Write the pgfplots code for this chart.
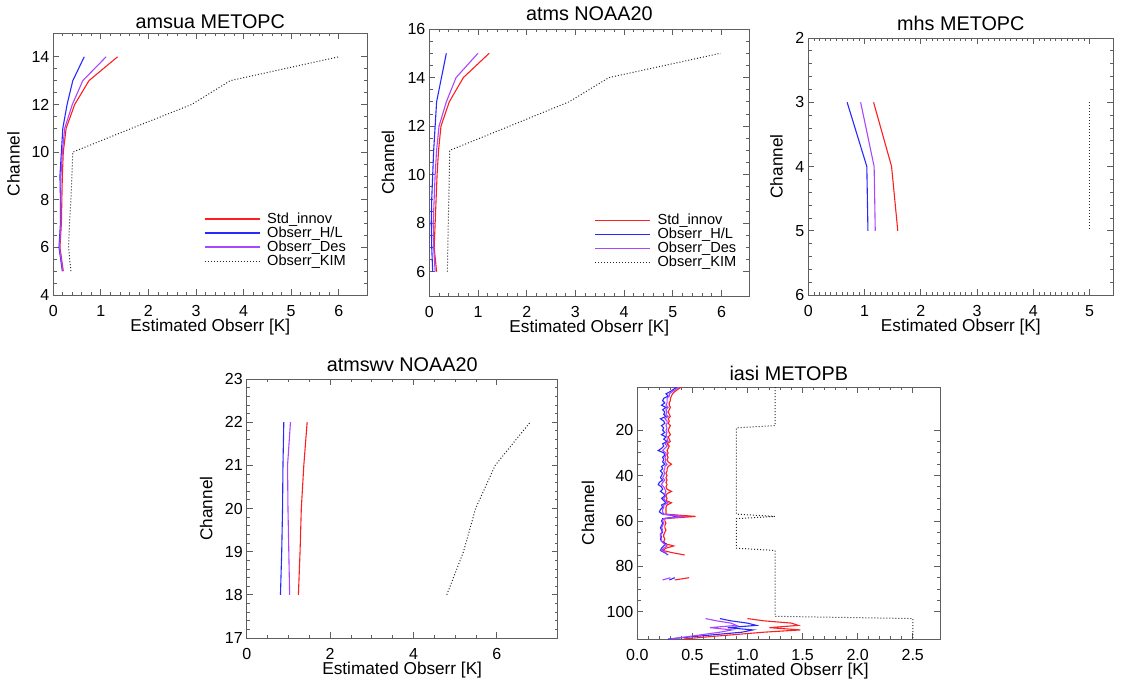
\documentclass[border=0pt]{standalone}
\usepackage{fontspec}
\setmainfont{Liberation Sans}
\usepackage{pgfplots}
\usepackage{pgfplotstable}
\pgfplotsset{compat=1.18}

\definecolor{cRed}{RGB}{255,30,30}
\definecolor{cBlue}{RGB}{40,40,255}
\definecolor{cPur}{RGB}{170,70,255}
\definecolor{axgray}{RGB}{95,95,95}

\pgfplotstableread{
ch r b p k
1 0.40 0.36 0.38 1.25
2 0.37 0.33 0.35 1.25
3 0.34 0.30 0.32 1.25
4 0.32 0.26 0.29 1.25
5 0.31 0.28 0.29 1.25
6 0.30 0.24 0.27 1.25
7 0.30 0.23 0.27 1.25
8 0.29 0.25 0.27 1.25
9 0.29 0.22 0.26 1.25
10 0.30 0.26 0.28 1.25
11 0.29 0.23 0.26 1.25
12 0.28 0.25 0.27 1.25
13 0.29 0.24 0.26 1.25
14 0.30 0.26 0.28 1.25
15 0.28 0.21 0.25 1.25
16 0.29 0.24 0.27 1.25
17 0.28 0.25 0.27 1.25
18 0.30 0.22 0.26 1.25
19 0.29 0.24 0.27 0.90
20 0.28 0.23 0.26 0.90
21 0.29 0.25 0.27 0.90
22 0.30 0.22 0.26 0.90
23 0.28 0.26 0.27 0.90
24 0.29 0.24 0.27 0.90
25 0.30 0.27 0.28 0.90
26 0.27 0.23 0.25 0.90
27 0.29 0.24 0.27 0.90
28 0.28 0.22 0.25 0.90
29 0.27 0.19 0.23 0.90
30 0.28 0.24 0.26 0.90
31 0.27 0.25 0.26 0.90
32 0.28 0.23 0.25 0.90
33 0.27 0.24 0.26 0.90
34 0.28 0.23 0.25 0.90
35 0.31 0.25 0.27 0.90
36 0.28 0.22 0.25 0.90
37 0.27 0.23 0.25 0.90
38 0.27 0.21 0.24 0.90
39 0.26 0.23 0.25 0.90
40 0.27 0.22 0.24 0.90
41 0.26 0.21 0.23 0.90
42 0.27 0.23 0.25 0.90
43 0.26 0.20 0.23 0.90
44 0.27 0.19 0.22 0.90
45 0.26 0.22 0.24 0.90
46 0.27 0.23 0.25 0.90
47 0.31 0.21 0.26 0.90
48 0.27 0.24 0.25 0.90
49 0.26 0.25 0.26 0.90
50 0.27 0.22 0.24 0.90
51 0.26 0.24 0.25 0.90
52 0.31 0.26 0.28 0.90
53 0.27 0.22 0.24 0.90
54 0.26 0.23 0.24 0.90
55 0.26 0.21 0.23 0.90
56 0.26 0.20 0.23 0.90
57 0.26 0.23 0.24 0.90
58 0.53 0.38 0.42 1.25
59 0.25 0.23 0.24 0.90
60 0.25 0.22 0.23 0.90
61 0.26 0.23 0.24 0.90
62 0.25 0.22 0.23 0.90
63 0.25 0.21 0.22 0.90
64 0.26 0.22 0.23 0.90
65 0.25 0.23 0.22 0.90
66 0.24 0.21 0.21 0.90
67 0.24 0.22 0.21 0.90
68 0.25 0.21 0.22 0.90
69 0.24 0.22 0.22 0.90
70 0.25 0.26 0.24 0.90
71 0.33 0.24 0.27 0.90
72 0.26 0.22 0.24 0.90
73 0.23 0.21 0.22 1.25
74 0.32 0.25 0.26 1.25
75 0.43 0.28 0.27 1.25
76 nan nan nan 1.25
77 nan nan nan 1.25
78 nan nan nan 1.25
79 nan nan nan 1.25
80 nan nan nan 1.25
81 nan nan nan 1.25
82 nan nan nan 1.25
83 nan nan nan 1.25
84 nan nan nan 1.25
85 0.47 0.34 0.30 1.25
86 0.34 0.29 0.23 1.25
87 nan nan nan 1.25
88 nan nan nan 1.25
89 nan nan nan 1.25
90 nan nan nan 1.25
91 nan nan nan 1.25
92 nan nan nan 1.25
93 nan nan nan 1.25
94 nan nan nan 1.25
95 nan nan nan 1.25
96 nan nan nan 1.25
97 nan nan nan 1.25
98 nan nan nan 1.25
99 nan nan nan 1.25
100 nan nan nan 1.25
101 nan nan nan 1.25
102 nan nan nan 1.25
103 1.00 0.75 0.62 2.50
104 1.15 0.85 0.72 2.50
105 1.40 1.00 0.85 2.50
106 1.46 1.08 0.90 2.50
107 1.20 0.82 0.66 2.50
108 1.48 1.05 0.86 2.50
109 1.15 0.95 0.75 2.50
110 0.90 0.72 0.60 2.50
111 0.65 0.50 0.45 2.50
112 0.42 0.28 0.30 2.50
}\iasi

\newcommand{\lblfont}{\fontsize{8.6}{9}\selectfont}

\pgfplotsset{
  panel/.style={
    scale only axis,
    anchor=south west,
    axis line style={axgray, line width=0.5pt},
    every tick/.style={axgray, line width=0.4pt},
    major tick length=3pt, minor tick length=1.6pt,
    tick align=inside,
    tick pos=both,
    /pgf/number format/assume math mode=true,
    every axis title shift=0pt,
    tick label style={font=\fontsize{8}{9}\selectfont},
    title style={font=\fontsize{9.9}{11}\selectfont, at={(axis description cs:0.5,1)}, anchor=base},
    xlabel={\lblfont Estimated Obserr [K]},
    ylabel={\lblfont Channel},
    xlabel style={at={(axis description cs:0.5,0)}, anchor=base, yshift=-18pt},
    xticklabel style={anchor=base, yshift=-10.9pt},
    yticklabel style={anchor=east, inner sep=0pt, xshift=-1.8pt},
    unbounded coords=jump,
    clip=true,
  },
  legpanel/.style={
    legend style={draw=none, fill=none, inner sep=0pt, row sep=-1pt,
      font=\fontsize{7.3}{7.3}\selectfont,
      nodes={inner sep=0.5pt, text depth=1.5pt, text height=5.5pt},
      column sep=3pt, anchor=north west},
    legend cell align=left,
    legend image code/.code={\draw[##1] (0pt,0pt) -- (27.5pt,0pt);},
  },
  sred/.style={color=cRed, line width=0.55pt},
  sblue/.style={color=cBlue, line width=0.55pt},
  spur/.style={color=cPur, line width=0.55pt},
  skim/.style={color=black!85, line width=0.5pt, dash pattern=on 0.5pt off 1pt},
}

\begin{document}
\begin{tikzpicture}
\useasboundingbox (0,0) rectangle (560.5pt,341pt);

% ---------------- amsua METOPC
\begin{axis}[panel, legpanel, at={(26.65pt,193.5pt)}, width=157pt, height=131pt,
  xmin=0, xmax=6.6, ymin=4, ymax=15,
  xtick={0,1,2,3,4,5,6}, ytick={4,6,8,10,12,14},
  minor x tick num=4, minor y tick num=3,
  title={amsua METOPC}, title style={yshift=2.5pt},
  ylabel style={at={(axis description cs:-0.107,0.5)}, anchor=base},
  legend style={at={(axis description cs:0.479,0.322)}}]
\addplot[sred, forget plot] coordinates {(0.21,5)(0.14,6)(0.17,7)(0.18,8)(0.19,9)(0.21,10)(0.27,11)(0.45,12)(0.75,13)(1.35,14)};
\addplot[sblue, forget plot] coordinates {(0.19,5)(0.12,6)(0.15,7)(0.15,8)(0.14,9)(0.17,10)(0.20,11)(0.29,12)(0.41,13)(0.65,14)};
\addplot[spur, forget plot] coordinates {(0.20,5)(0.13,6)(0.16,7)(0.16,8)(0.16,9)(0.19,10)(0.24,11)(0.40,12)(0.62,13)(1.11,14)};
\addplot[skim, forget plot] coordinates {(0.37,5)(0.32,6)(0.34,7)(0.37,8)(0.39,9)(0.41,10)(1.65,11)(2.91,12)(3.72,13)(6.0,14)};
\addlegendimage{draw=cRed, line width=0.55pt}
\addlegendentry{Std\_innov}
\addlegendimage{draw=cBlue, line width=0.55pt}
\addlegendentry{Obserr\_H/L}
\addlegendimage{draw=cPur, line width=0.55pt}
\addlegendentry{Obserr\_Des}
\addlegendimage{draw=black!85, line width=0.5pt, dash pattern=on 0.5pt off 1pt}
\addlegendentry{Obserr\_KIM}
\end{axis}

% ---------------- atms NOAA20
\begin{axis}[panel, legpanel, at={(214.65pt,193pt)}, width=160pt, height=133.5pt,
  xmin=0, xmax=6.57, ymin=5, ymax=16,
  xtick={0,1,2,3,4,5,6}, ytick={6,8,10,12,14,16},
  minor x tick num=4, minor y tick num=3,
  title={atms NOAA20}, title style={yshift=4.3pt},
  ylabel style={at={(axis description cs:-0.110,0.5)}, anchor=base},
  legend style={at={(axis description cs:0.515,0.315)}}]
\addplot[sred] coordinates {(0.15,6)(0.10,7)(0.12,8)(0.14,9)(0.16,10)(0.19,11)(0.24,12)(0.41,13)(0.70,14)(1.23,15)};
\addlegendentry{Std\_innov}
\addplot[sblue] coordinates {(0.07,6)(0.05,7)(0.04,8)(0.05,9)(0.07,10)(0.09,11)(0.12,12)(0.15,13)(0.25,14)(0.35,15)};
\addlegendentry{Obserr\_H/L}
\addplot[spur] coordinates {(0.12,6)(0.09,7)(0.08,8)(0.10,9)(0.12,10)(0.15,11)(0.20,12)(0.35,13)(0.55,14)(1.0,15)};
\addlegendentry{Obserr\_Des}
\addplot[skim] coordinates {(0.37,6)(0.38,7)(0.39,8)(0.40,9)(0.41,10)(0.42,11)(1.65,12)(2.87,13)(3.69,14)(5.98,15)};
\addlegendentry{Obserr\_KIM}
\end{axis}

% ---------------- mhs METOPC
\begin{axis}[panel, at={(404.15pt,193.5pt)}, width=152.5pt, height=128.5pt,
  xmin=0, xmax=5.42, ymin=2, ymax=6, y dir=reverse,
  xtick={0,1,2,3,4,5}, ytick={2,3,4,5,6},
  minor x tick num=9, minor y tick num=4,
  title={mhs METOPC}, title style={yshift=3.8pt},
  ylabel style={at={(axis description cs:-0.0846,0.5)}, anchor=base}]
\addplot[sred] coordinates {(1.16,3)(1.48,4)(1.59,5)};
\addplot[sblue] coordinates {(0.69,3)(1.04,4)(1.06,5)};
\addplot[spur] coordinates {(0.93,3)(1.17,4)(1.19,5)};
\addplot[skim] coordinates {(5,3)(5,4)(5,5)};
\end{axis}

% ---------------- atmswv NOAA20
\begin{axis}[panel, at={(123.35pt,22pt)}, width=155.5pt, height=129.5pt,
  xmin=0, xmax=7.46, ymin=17, ymax=23,
  xtick={0,2,4,6}, ytick={17,18,19,20,21,22,23},
  minor x tick num=3, minor y tick num=4,
  title={atmswv NOAA20}, title style={yshift=3.8pt},
  ylabel style={at={(axis description cs:-0.110,0.5)}, anchor=base}]
\addplot[sred] coordinates {(1.24,18)(1.28,19)(1.31,20)(1.37,21)(1.45,22)};
\addplot[sblue] coordinates {(0.81,18)(0.84,19)(0.86,20)(0.87,21)(0.89,22)};
\addplot[spur] coordinates {(1.03,18)(1.01,19)(0.99,20)(0.98,21)(1.05,22)};
\addplot[skim] coordinates {(4.80,18)(5.20,19)(5.49,20)(5.96,21)(6.80,22)};
\end{axis}

% ---------------- iasi METOPB
\begin{axis}[panel, at={(318.65pt,21.5pt)}, width=151.5pt, height=126pt,
  xmin=0, xmax=2.75, ymin=1, ymax=112, y dir=reverse,
  xtick={0,0.5,1,1.5,2,2.5}, ytick={20,40,60,80,100},
  xticklabel style={/pgf/number format/.cd, fixed, fixed zerofill, precision=1},
  minor x tick num=4, minor y tick num=3,
  title={iasi METOPB}, title style={yshift=3.3pt},
  ylabel style={at={(axis description cs:-0.1426,0.5)}, anchor=base}]
\addplot[sred] table[x=r, y=ch] {\iasi};
\addplot[sblue] table[x=b, y=ch] {\iasi};
\addplot[spur] table[x=p, y=ch] {\iasi};
\addplot[skim] table[x=k, y=ch] {\iasi};
\end{axis}
\end{tikzpicture}
\end{document}
